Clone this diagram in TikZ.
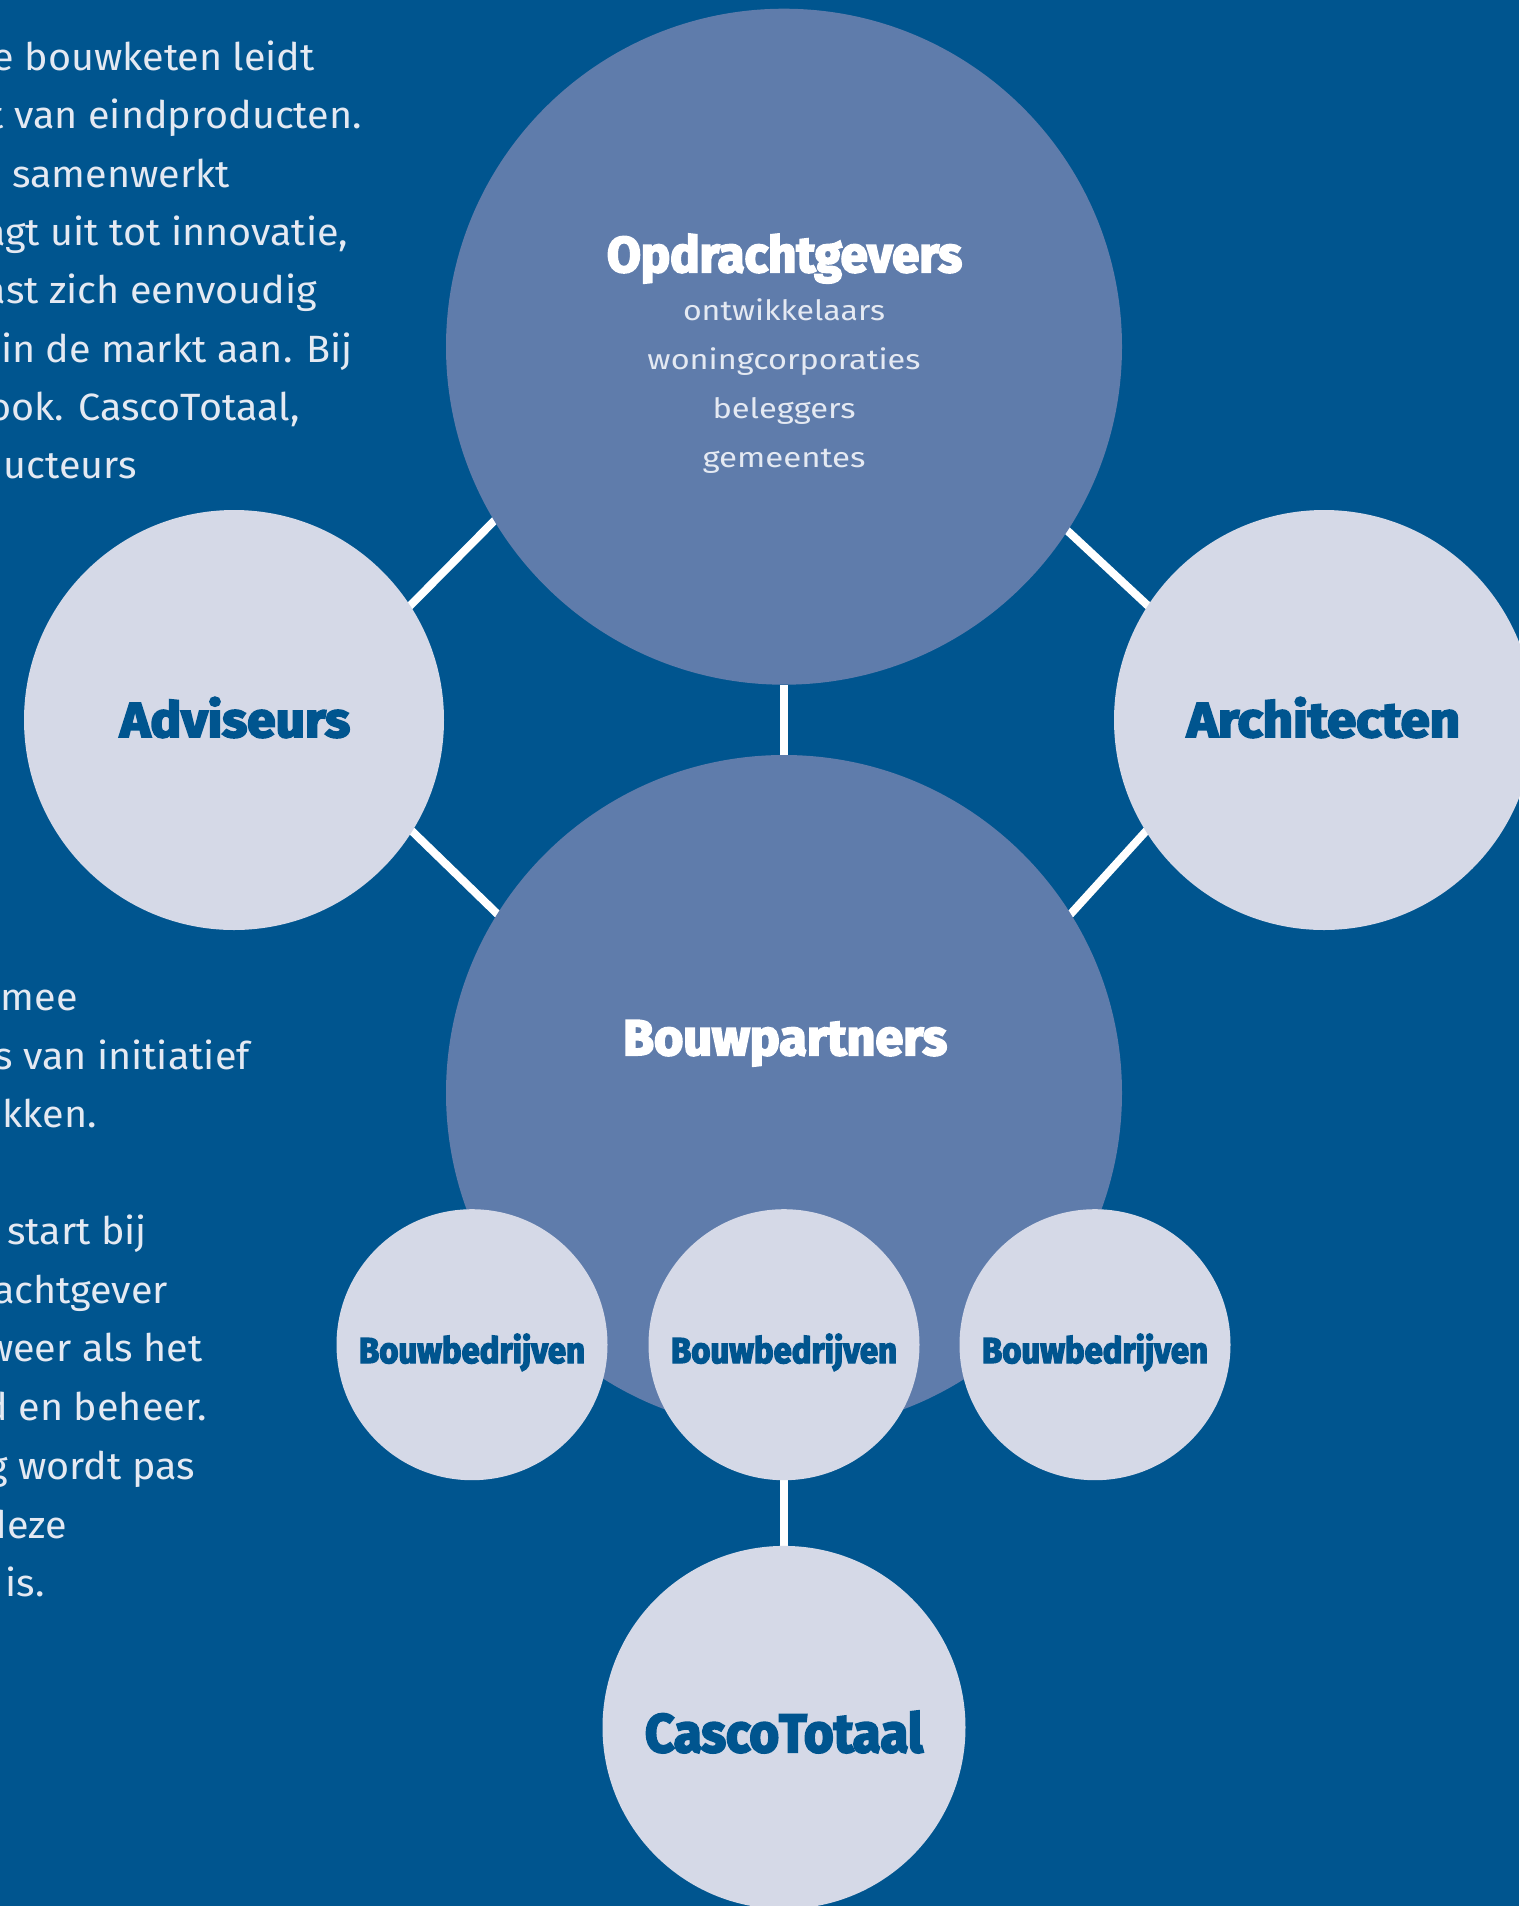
\documentclass[tikz,border=0pt]{standalone}
\usepackage{fontspec}
\usepackage{graphicx}
\setmainfont{Fira Sans}
\newfontfamily\hvyf[BoldFeatures={FakeBold=4}]{Fira Sans}
\newcommand\hvy{\hvyf\bfseries}
\newfontfamily\lgt{Fira Sans}
\definecolor{bgblue}{HTML}{00558F}
\definecolor{midblue}{HTML}{5F7CAB}
\definecolor{pale}{HTML}{D5D9E7}
\definecolor{bodytxt}{HTML}{E4E9F2}
\pgfdeclarelayer{back}
\pgfsetlayers{back,main}
\newcommand\fitw[2]{\resizebox{#1}{\height}{#2}}
\newcommand\btx{1.04}
\newcommand\bt[1]{\scalebox{\btx}[1]{#1}}
\tikzset{
  bigc/.style={circle, fill=midblue, minimum size=676pt, inner sep=0pt},
  sidec/.style={circle, fill=pale, minimum size=420pt, inner sep=0pt},
  smallc/.style={circle, fill=pale, minimum size=271pt, inner sep=0pt},
  cascoc/.style={circle, fill=pale, minimum size=363pt, inner sep=0pt},
  link/.style={draw=white, line width=8pt},
  headw/.style={anchor=base, inner sep=0pt, text=white, font=\hvy\fontsize{50}{50}\selectfont},
  headb/.style={anchor=base, inner sep=0pt, text=bgblue, font=\hvy\fontsize{49}{49}\selectfont},
  bbtxt/.style={anchor=base, inner sep=0pt, text=bgblue, font=\hvy\fontsize{36}{36}\selectfont},
  sublbl/.style={anchor=base, inner sep=0pt, text=bodytxt, font=\lgt\fontsize{28}{28}\selectfont},
  body/.style={anchor=base east, inner sep=0pt, text=bodytxt, font=\lgt\fontsize{38}{38}\selectfont},
}
\begin{document}
\begin{tikzpicture}[x=1pt,y=-1pt]
\useasboundingbox (0,0) rectangle (1519,1906);
\begin{pgfonlayer}{back}
\fill[bgblue] (0,0) rectangle (1519,1906);
\end{pgfonlayer}

% body text, top block
\node[body] (t1) at (315,70) {\bt{e bouwketen leidt}};
\node[body] (t2) at (362,128) {\bt{t van eindproducten.}};
\node[body] (t3) at (230,187) {\bt{samenwerkt}};
\node[body] (t4) at (348,245) {\bt{agt uit tot innovatie,}};
\node[body] (t5) at (317,303) {\bt{ast zich eenvoudig}};
\node[body] (t6) at (353,362) {\bt{in de markt aan. Bij}};
\node[body] (t7) at (300,420) {\bt{ook. CascoTotaal,}};
\node[body] (t8) at (137,478) {\bt{ucteurs}};

% body text, lower block
\node[body] (u1) at (78,1010) {\bt{mee}};
\node[body] (u2) at (250,1069) {\bt{s van initiatief}};
\node[body] (u3) at (97,1127) {\bt{kken.}};
\node[body] (u4) at (147,1244) {\bt{g start bij}};
\node[body] (u5) at (168,1303) {\bt{achtgever}};
\node[body] (u6) at (203,1361) {\bt{weer als het}};
\node[body] (u7) at (207,1420) {\bt{d en beheer.}};
\node[body] (u8) at (195,1479) {\bt{g wordt pas}};
\node[body] (u9) at (67,1538) {\bt{deze}};
\node[body] (u10) at (45,1596) {\bt{is.}};

% circles
\node[bigc] (opd) at (784,346.7) {};
\node[bigc] (bp) at (784,1093) {};
\node[sidec] (adv) at (234,720) {};
\node[sidec] (arch) at (1324,720) {};
\node[smallc] (bb1) at (472,1344.7) {};
\node[smallc] (bb2) at (784,1344.7) {};
\node[smallc] (bb3) at (1095,1344.7) {};
\node[cascoc] (casco) at (784,1727.4) {};

% connectors
\begin{pgfonlayer}{back}
\draw[link] (opd.south) -- (bp.north);
\draw[link] (adv.center) -- (adv.33) -- (opd.211) -- (opd.center);
\draw[link] (arch.center) -- (arch.147.5) -- (opd.-33) -- (opd.center);
\draw[link] (adv.center) -- (adv.-32) -- (bp.148) -- (bp.center);
\draw[link] (arch.center) -- (arch.212.5) -- (bp.32) -- (bp.center);
\draw[link] (bb2.south) -- (casco.north);
\end{pgfonlayer}

% labels
\node[headw] (lopd) at (784.5,272) {\fitw{355pt}{Opdrachtgevers}};
\node[sublbl] (s1) at (784,320) {\fitw{202pt}{ontwikkelaars}};
\node[sublbl] (s2) at (784,369) {\fitw{273pt}{woningcorporaties}};
\node[sublbl] (s3) at (784,418) {\fitw{143pt}{beleggers}};
\node[sublbl] (s4) at (784,467) {\fitw{163pt}{gemeentes}};
\node[headw] (lbp) at (785,1055) {\fitw{324pt}{Bouwpartners}};
\node[headb] (ladv) at (235,737) {\fitw{230pt}{Adviseurs}};
\node[headb] (larch) at (1323.5,737) {\fitw{273pt}{Architecten}};
\node[bbtxt] (lbb1) at (472,1363) {\fitw{226pt}{Bouwbedrijven}};
\node[bbtxt] (lbb2) at (784,1363) {\fitw{226pt}{Bouwbedrijven}};
\node[bbtxt] (lbb3) at (1095,1363) {\fitw{226pt}{Bouwbedrijven}};
\node[headb, font=\hvy\fontsize{54}{54}\selectfont] (lcasco) at (784,1752) {\fitw{278pt}{CascoTotaal}};
\end{tikzpicture}
\end{document}
